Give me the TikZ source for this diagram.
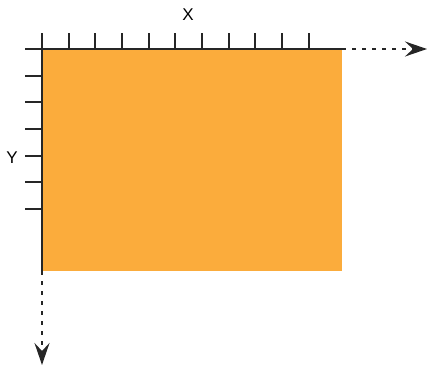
\documentclass[tikz,border=0pt]{standalone}
\usepackage{fontspec}
\setmainfont{Liberation Sans}
\usetikzlibrary{arrows.meta, calc}
\definecolor{areaorange}{RGB}{251,172,60}

\begin{document}
\begin{tikzpicture}[x=1pt, y=-1pt, >={Stealth[length=22pt, width=15pt, inset=8pt]}, font=\fontsize{17}{20}\selectfont,
  axisline/.style={line width=2pt, black!85},
  axistick/.style={line width=2pt, black!85},
  dotarrow/.style={->, line width=2.5pt, black!85, dash pattern=on 4pt off 6pt}]
  \useasboundingbox (0,0) rectangle (428,369);
  \coordinate (O) at (42,49);
  \coordinate (XE) at (342,49);
  \coordinate (YE) at (42,271);
  \coordinate (XT) at (427,49);
  \coordinate (YT) at (42,365);

  \fill[areaorange] (O) rectangle (342,271);

  \foreach \i in {0,...,10} {\draw[axistick] ($(O)+(26.67*\i,0)$) -- ++(0,-16);}
  \foreach \j in {0,...,6} {\draw[axistick] ($(O)+(0,26.67*\j)$) -- ++(-17,0);}

  \draw[axisline] (O) -- (XE);
  \draw[axisline] (O) -- (YE);
  \draw[dotarrow] (XE) -- (XT);
  \draw[dotarrow] (YE) -- (YT);

  \node (xlabel) at (188,15) {X};
  \node (ylabel) at (12,158) {Y};
\end{tikzpicture}
\end{document}
